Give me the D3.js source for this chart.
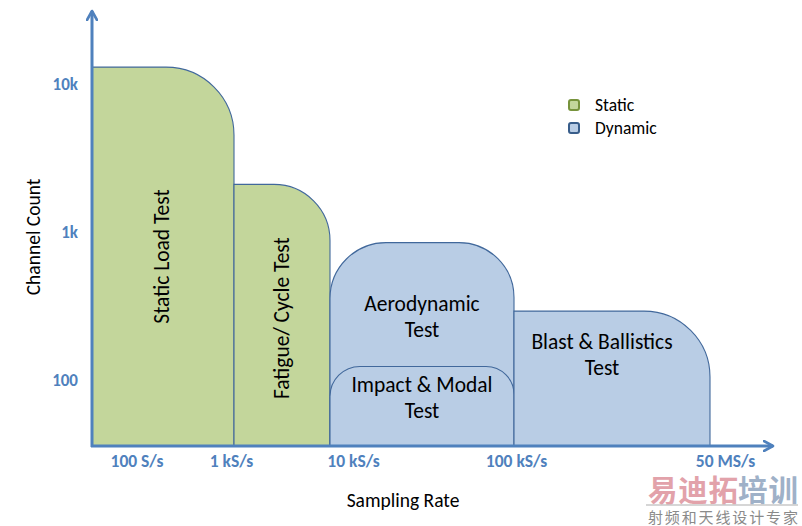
<!DOCTYPE html>
<html><head><meta charset="utf-8">
<script src="https://cdn.jsdelivr.net/npm/d3@7"></script>
<style>
html,body{margin:0;padding:0;background:#fff;}
svg{display:block;font-family:Carlito,Calibri,Lato,"Noto Sans",sans-serif;}
</style></head>
<body><svg id="c" width="802" height="526"></svg>
<script>
// ---- data ----
const blockNames = ["Static Load Test", "Fatigue/ Cycle Test", "Aerodynamic Test", "Impact & Modal Test", "Blast & Ballistics Test"];
const blockTypes = ["Static", "Static", "Dynamic", "Dynamic", "Dynamic"];
const rateFrom = [35, 1e3, 1e4, 1e4, 1e5];
const rateTo = [1e3, 1e4, 1e5, 1e5, 5e7];
const channelMax = [13000, 2100, 850, 124, 293];
const xTickValues = [100, 1e3, 1e4, 1e5, 5e7];
const xTickLabels = ["100 S/s", "1 kS/s", "10 kS/s", "100 kS/s", "50 MS/s"];
const yTickValues = [100, 1000, 10000];
const yTickLabels = ["100", "1k", "10k"];
const legendNames = ["Static", "Dynamic"];

// ---- style ----
const fills = {Static: "#c3d69b", Dynamic: "#b9cde5"};
const legendStroke = {Static: "#77933c", Dynamic: "#385d8a"};
const outline = "#41689b";
const axisColor = "#4f81bd";
const radii = [[0, 68], [0, 56], [56, 55], [30, 28], [0, 66]];      // [left, right] top corner radii
const labelStyle = [
  {rot: true, dx: 6, dy: 0},
  {rot: true, dx: 7, dy: 3},
  {rot: false, dx: 0, dy: 68},
  {rot: false, dx: 0, dy: 26},
  {rot: false, dx: -10, dy: 38}
];
const tickNudge = [0, -3, 23, 2, 15];

const svg = d3.select("#c");
const x = d3.scaleLog().domain([35, 1e3, 1e4, 1e5, 5e7]).range([92, 234, 330, 514, 710]);
const y = d3.scaleLog().domain([36, 10000]).range([446, 84]);
const base = y(36);

function blockPath(x0, x1, yt, rl, rr) {
  const p = d3.path();
  p.moveTo(x0, base);
  p.lineTo(x0, yt + rl);
  if (rl > 0) p.arcTo(x0, yt, x0 + rl, yt, rl);
  p.lineTo(x1 - rr, yt);
  if (rr > 0) p.arcTo(x1, yt, x1, yt + rr, rr);
  p.lineTo(x1, base);
  p.closePath();
  return p.toString();
}

const blocks = blockNames.map((n, i) => ({name: n, type: blockTypes[i], from: rateFrom[i], to: rateTo[i], max: channelMax[i], r: radii[i], ls: labelStyle[i]}));

svg.append("g").selectAll("path").data(blocks).join("path")
  .attr("d", d => blockPath(x(d.from), x(d.to), y(d.max), d.r[0], d.r[1]))
  .attr("fill", d => fills[d.type])
  .attr("stroke", outline).attr("stroke-width", 1.1);

// block labels
const lab = svg.append("g").attr("font-size", 21.5).attr("fill", "#000");
blocks.forEach(d => {
  const cx = (x(d.from) + x(d.to)) / 2 + d.ls.dx;
  if (d.ls.rot) {
    const cy = (y(d.max) + base) / 2 + d.ls.dy;
    lab.append("text").attr("transform", `translate(${cx},${cy}) rotate(-90)`)
      .attr("text-anchor", "middle").text(d.name);
  } else {
    const words = d.name.split(" ");
    const last = words.pop();
    const t = lab.append("text").attr("text-anchor", "middle");
    t.append("tspan").attr("x", cx).attr("y", y(d.max) + d.ls.dy).text(words.join(" "));
    t.append("tspan").attr("x", cx).attr("dy", 26).text(last);
  }
});

// axes
const yAxis = d3.axisLeft(y).tickValues(yTickValues).tickSize(0).tickPadding(14)
  .tickFormat(v => yTickLabels[yTickValues.indexOf(v)]);
const gy = svg.append("g").attr("transform", "translate(92,0)").call(yAxis);
gy.select(".domain").remove();
gy.selectAll("text").attr("fill", axisColor).attr("font-size", 17).attr("font-weight", "bold")
  .attr("font-family", "Carlito,Calibri,Lato,sans-serif");

const xAxis = d3.axisBottom(x).tickValues(xTickValues).tickSize(0).tickPadding(9)
  .tickFormat(v => xTickLabels[xTickValues.indexOf(v)]);
const gx = svg.append("g").attr("transform", `translate(0,${base})`).call(xAxis);
gx.select(".domain").remove();
gx.selectAll("text").attr("fill", axisColor).attr("font-size", 17.5).attr("font-weight", "bold")
  .attr("font-family", "Carlito,Calibri,Lato,sans-serif")
  .attr("dx", v => tickNudge[xTickValues.indexOf(v)]);

// arrow lines
svg.append("defs").append("marker").attr("id", "arr").attr("viewBox", "0 0 12 12")
  .attr("refX", 10).attr("refY", 6).attr("markerWidth", 12).attr("markerHeight", 12)
  .attr("markerUnits", "userSpaceOnUse").attr("orient", "auto")
  .append("path").attr("d", "M1,1 L10,6 L1,11").attr("fill", "none").attr("stroke", axisColor).attr("stroke-width", 2.6)
  .attr("stroke-linecap", "round").attr("stroke-linejoin", "round");
svg.append("line").attr("x1", 92).attr("y1", base + 1).attr("x2", 92).attr("y2", 11)
  .attr("stroke", axisColor).attr("stroke-width", 3).attr("marker-end", "url(#arr)");
svg.append("line").attr("x1", 91).attr("y1", base).attr("x2", 773).attr("y2", base)
  .attr("stroke", axisColor).attr("stroke-width", 3).attr("marker-end", "url(#arr)");

// axis titles
svg.append("text").attr("x", 403).attr("y", 507).attr("text-anchor", "middle").attr("font-size", 19.5).text("Sampling Rate");
svg.append("text").attr("transform", "translate(40,237) rotate(-90)").attr("text-anchor", "middle").attr("font-size", 19.5).text("Channel Count");

// legend
const lg = svg.append("g").attr("transform", "translate(569,100)");
legendNames.forEach((n, i) => {
  lg.append("rect").attr("x", 0).attr("y", i * 23).attr("width", 10).attr("height", 10).attr("rx", 2)
    .attr("fill", fills[n]).attr("stroke", legendStroke[n]).attr("stroke-width", 2);
  lg.append("text").attr("x", 26).attr("y", i * 23 + 11).attr("font-size", 17.5).text(n);
});

// watermark
const wm = svg.append("g").attr("font-family", "'Noto Sans CJK SC',sans-serif").attr("font-weight", "bold");
wm.append("text").attr("x", 648).attr("y", 501).attr("font-size", 29.5).attr("textLength", 90).attr("fill", "#e2a2aa").text("易迪拓");
wm.append("text").attr("x", 738).attr("y", 501).attr("font-size", 29.5).attr("textLength", 60).attr("fill", "#9fb1c8").text("培训");
svg.append("line").attr("x1", 646).attr("x2", 798).attr("y1", 505).attr("y2", 505).attr("stroke", "#c8c8c8").attr("stroke-width", 1.5);
svg.append("text").attr("x", 648).attr("y", 523).attr("font-size", 15).attr("fill", "#8a8a8a")
  .attr("font-family", "'Noto Sans CJK SC',sans-serif").attr("textLength", 150).text("射频和天线设计专家");
</script></body></html>
